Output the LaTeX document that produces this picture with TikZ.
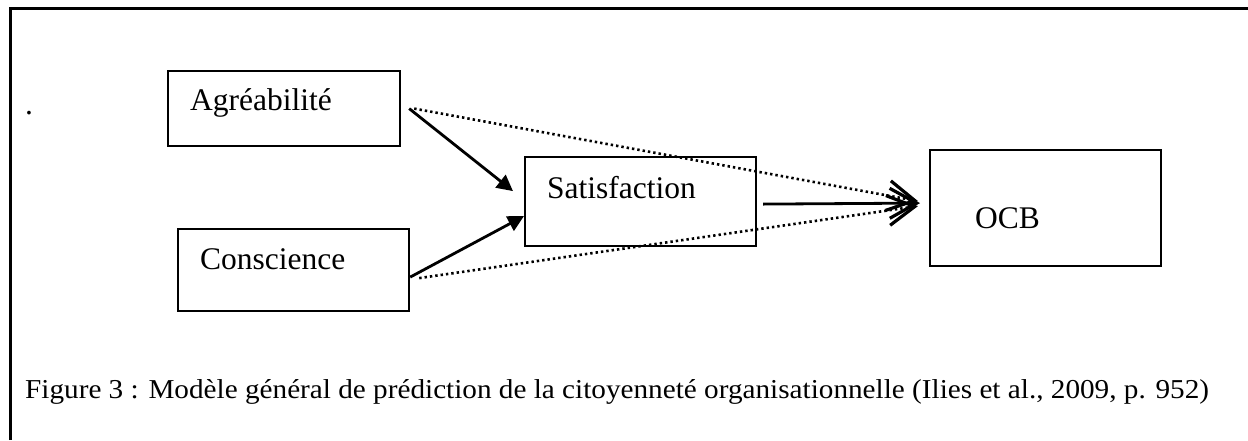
\documentclass[tikz,border=0pt]{standalone}
\usepackage{fontspec}
\setmainfont{Liberation Serif}
\newfontfamily\capfont[FakeStretch=1.07]{Liberation Serif}
\usetikzlibrary{arrows.meta}

\begin{document}
\begin{tikzpicture}[x=1pt,y=-1pt,
  box/.style={draw, line width=2.2pt, rectangle, anchor=north west, inner ysep=0pt, align=left, font=\fontsize{31.5}{36}\selectfont},
  link/.style={line width=2.8pt, -{Triangle[length=16pt,width=16pt]}},
  mainlink/.style={line width=2.8pt, -{Straight Barb[length=27pt,width=30pt,line width=3.2pt]}},
  indirect/.style={line width=2.6pt, dash pattern=on 2.4pt off 3pt, -{Straight Barb[length=27pt,width=30pt,line width=3.2pt]}}]
\useasboundingbox (0,0) rectangle (1248,440);
\draw[line width=3pt] (10,440) -- (10,8) -- (1248,8);
%
\node[font=\fontsize{31.5}{36}\selectfont, anchor=base] (dot) at (29,114) {.};
\node[box, inner xsep=22pt, text width=188pt, text height=39pt, text depth=36pt] (agr) at (167,70) {Agréabilité};
\node[box, inner xsep=22pt, text width=187pt, text height=40pt, text depth=42pt] (con) at (177,228) {Conscience};
\node[box, inner xsep=22pt, text width=187pt, text height=41pt, text depth=48pt] (sat) at (524,156) {Satisfaction};
\node[box, inner xsep=45pt, text width=141pt, text height=78pt, text depth=38pt] (ocb) at (929,149) {OCB};
%
\draw[link] ([xshift=8pt]agr.east) -- ([xshift=-11pt,yshift=10.5pt]sat.west);
\draw[link] ([yshift=-7pt]con.east) -- ([yshift=-14.5pt]sat.west);
\draw[mainlink] ([xshift=6pt,yshift=-2.5pt]sat.east) -- ([xshift=-9pt,yshift=5pt]ocb.west);
%
\draw[indirect] ([xshift=13pt]agr.east) -- ([xshift=-11pt,yshift=7pt]ocb.west);
\draw[indirect] ([xshift=9pt,yshift=-8pt]con.east) -- ([xshift=-11pt,yshift=2pt]ocb.west);
%
\node[anchor=base west, inner sep=0pt, font=\capfont\fontsize{27.3}{30}\selectfont] (caption) at (25,398)
  {Figure 3 : Modèle général de prédiction de la citoyenneté organisationnelle (Ilies et al., 2009, p. 952)};
\end{tikzpicture}
\end{document}
